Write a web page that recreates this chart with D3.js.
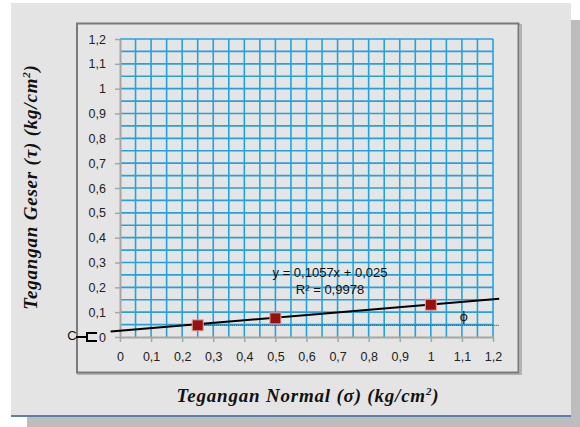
<!DOCTYPE html>
<html>
<head>
<meta charset="utf-8">
<script src="https://cdn.jsdelivr.net/npm/d3@7"></script>
<style>
  body { margin: 0; background: #fff; }
  svg { display: block; }
</style>
</head>
<body>
<div id="chart"></div>
<script>
// data
const normalStress = [0.25, 0.5, 1];
const shearStress = [0.047, 0.075, 0.13];
const xTicks = [0, 0.1, 0.2, 0.3, 0.4, 0.5, 0.6, 0.7, 0.8, 0.9, 1, 1.1, 1.2];
const yTicks = [0, 0.1, 0.2, 0.3, 0.4, 0.5, 0.6, 0.7, 0.8, 0.9, 1, 1.1, 1.2];
const gridSteps = d3.range(1, 25).map(i => i * 0.05);
const slope = 0.1057, intercept = 0.025;
const trendRange = [-0.03, 1.22];
const eqLines = ["y = 0,1057x + 0,025", "R² = 0,9978"];

const W = 580, H = 427;
const plot = { left: 120, right: 493, top: 39, bottom: 337 };

const svg = d3.select("#chart").append("svg")
    .attr("width", W)
    .attr("height", H);

// page shadow + background
svg.append("rect").attr("x", 571).attr("y", 20).attr("width", 9).attr("height", 407).attr("fill", "#bdbdbd");
svg.append("rect").attr("x", 27).attr("y", 417).attr("width", 553).attr("height", 10).attr("fill", "#bdbdbd");
svg.append("rect").attr("x", 11).attr("y", 3).attr("width", 560).attr("height", 413).attr("fill", "#e4e4e4");
svg.append("line").attr("x1", 11).attr("x2", 571).attr("y1", 416).attr("y2", 416)
    .attr("stroke", "#5b7fb0").attr("stroke-width", 2);

// chart frame
svg.append("rect").attr("x", 78).attr("y", 25).attr("width", 443).attr("height", 349)
    .attr("fill", "none").attr("stroke", "#b4b4b4").attr("stroke-width", 2);
svg.append("rect").attr("x", 77).attr("y", 23.5).attr("width", 441.5).attr("height", 349)
    .attr("fill", "#e5e5e5").attr("stroke", "#7a7a7a").attr("stroke-width", 2);

const x = d3.scaleLinear().domain([0, 1.2]).range([plot.left, plot.right]);
const y = d3.scaleLinear().domain([0, 1.2]).range([plot.bottom, plot.top]);

const loc = d3.formatLocale({ decimal: ",", thousands: ".", grouping: [3], currency: ["", ""] });
const fmt = v => loc.format("~g")(+v.toFixed(2));

// grid
const grid = svg.append("g").attr("stroke", "#23a3dc").attr("stroke-width", 1.6);
grid.selectAll(".v").data(gridSteps).join("line")
    .attr("x1", d => x(d)).attr("x2", d => x(d))
    .attr("y1", plot.top).attr("y2", plot.bottom);
grid.selectAll(".h").data(gridSteps).join("line")
    .attr("x1", plot.left).attr("x2", plot.right)
    .attr("y1", d => y(d)).attr("y2", d => y(d));

// axes
const xAxis = svg.append("g")
    .attr("transform", `translate(0,${plot.bottom})`)
    .call(d3.axisBottom(x).tickValues(xTicks).tickFormat(fmt).tickSize(5).tickSizeOuter(0).tickPadding(10));
const yAxis = svg.append("g")
    .attr("transform", `translate(${plot.left},0)`)
    .call(d3.axisLeft(y).tickValues(yTicks).tickFormat(fmt).tickSize(5).tickSizeOuter(0).tickPadding(9));

[xAxis, yAxis].forEach(ax => {
    ax.select(".domain").attr("stroke", "#a6a6a6").attr("stroke-width", 2);
    ax.selectAll(".tick line").attr("stroke", "#a6a6a6").attr("stroke-width", 1.5);
    ax.selectAll(".tick text")
        .attr("fill", "#222")
        .style("font-family", "'Liberation Sans', Arial, sans-serif")
        .style("font-size", "12.5px");
});

// trendline
const trend = d3.line().x(d => x(d)).y(d => y(slope * d + intercept));
svg.append("path")
    .datum(trendRange)
    .attr("d", trend)
    .attr("fill", "none")
    .attr("stroke", "#000")
    .attr("stroke-width", 2);

// horizontal reference for friction angle
svg.append("line")
    .attr("x1", x(normalStress[0])).attr("x2", x(trendRange[1]))
    .attr("y1", y(shearStress[0])).attr("y2", y(shearStress[0]))
    .attr("stroke", "#333").attr("stroke-width", 1).attr("stroke-dasharray", "1 1");

// data points
const sq = 11;
svg.append("g")
    .selectAll("rect")
    .data(normalStress.map((d, i) => [d, shearStress[i]]))
    .join("rect")
    .attr("x", d => x(d[0]) - sq / 2)
    .attr("y", d => y(d[1]) - sq / 2)
    .attr("width", sq).attr("height", sq)
    .attr("fill", "#9c0f0f")
    .attr("stroke", "#d9a5a5").attr("stroke-width", 1);

// equation
svg.append("g")
    .selectAll("text")
    .data(eqLines)
    .join("text")
    .attr("x", 330)
    .attr("y", (d, i) => 277 + i * 17)
    .attr("text-anchor", "middle")
    .style("font-family", "'Liberation Sans', Arial, sans-serif")
    .style("font-size", "13px")
    .attr("fill", "#111")
    .text(d => d);

// phi marker
svg.append("text")
    .attr("x", x(1.106)).attr("y", y(0.083) + 5)
    .attr("text-anchor", "middle")
    .style("font-family", "'DejaVu Sans', sans-serif")
    .style("font-size", "13px")
    .attr("fill", "#111")
    .text("ϕ");

// C callout
svg.append("text")
    .attr("x", 72).attr("y", 340)
    .attr("text-anchor", "middle")
    .style("font-family", "'Liberation Sans', Arial, sans-serif")
    .style("font-size", "13px")
    .attr("fill", "#111")
    .text("C");
svg.append("path")
    .attr("d", "M76,337H87M97,333H87V341H97")
    .attr("fill", "none").attr("stroke", "#000").attr("stroke-width", 2);

// axis titles
const titleFont = sel => sel
    .attr("text-anchor", "middle")
    .style("font-family", "'Liberation Serif', 'Times New Roman', serif")
    .style("font-size", "19px")
    .style("font-weight", "bold")
    .style("font-style", "italic")
    .style("letter-spacing", "0.8px")
    .attr("fill", "#111");

svg.append("text")
    .attr("x", 308).attr("y", 402)
    .call(titleFont)
    .html("Tegangan Normal (σ) (kg/cm<tspan dy='-7' font-size='11px'>2</tspan><tspan dy='7'>)</tspan>");

svg.append("text")
    .attr("transform", "translate(37,187) rotate(-90)")
    .call(titleFont)
    .html("Tegangan Geser (τ) (kg/cm<tspan dy='-7' font-size='11px'>2</tspan><tspan dy='7'>)</tspan>");
</script>
</body>
</html>
